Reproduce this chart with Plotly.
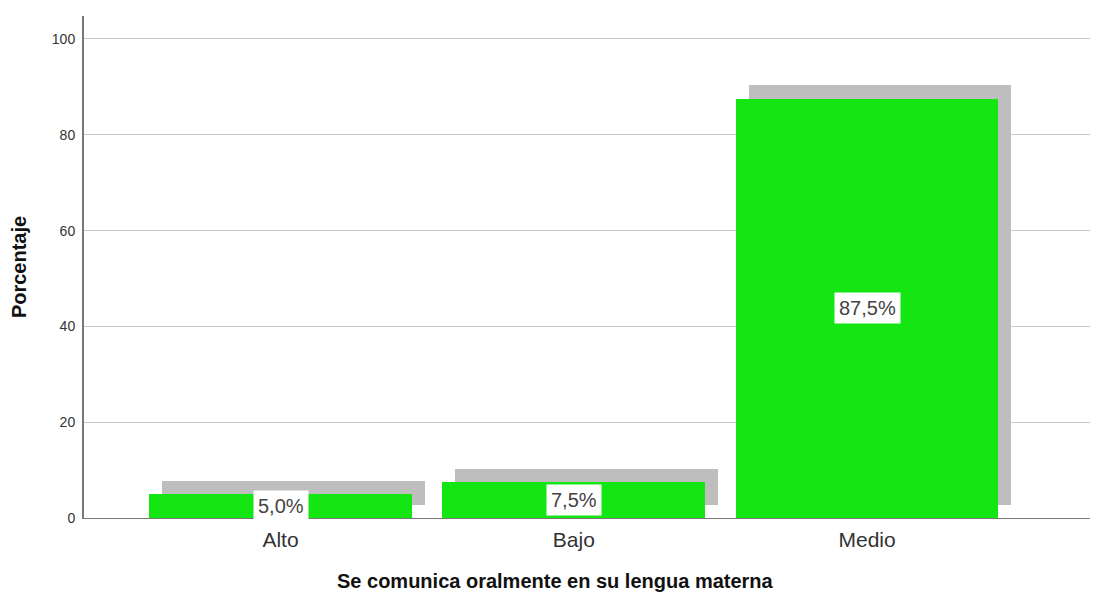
import plotly.graph_objects as go

# datos del gráfico
categorias = ['Alto', 'Bajo', 'Medio']
porcentajes = [5.0, 7.5, 87.5]
ticks_y = [0, 20, 40, 60, 80, 100]

posiciones = list(range(len(categorias)))
verde = '#14E614'
sombra = '#BEBEBE'
fuente = 'Arial, Liberation Sans'

fig = go.Figure()
# sombra desplazada (efecto 3D de SPSS)
fig.add_trace(go.Bar(
    x=[p + 0.044 for p in posiciones], y=porcentajes, base=2.8,
    width=0.896, marker=dict(color=sombra, line=dict(width=0)),
    hoverinfo='skip', showlegend=False
))
fig.add_trace(go.Bar(
    x=posiciones, y=porcentajes, width=0.896,
    marker=dict(color=verde, line=dict(width=0)),
    hovertemplate='%{y:.1f}%<extra></extra>', showlegend=False
))

for p, v in zip(posiciones, porcentajes):
    fig.add_annotation(
        x=p, y=v / 2, text=f'{v:.1f}%'.replace('.', ','),
        showarrow=False, bgcolor='white', borderpad=4,
        font=dict(size=20, color='#444444', family=fuente)
    )

# título del eje x centrado en la figura, no en el área del gráfico
fig.add_annotation(
    x=0.469, xref='paper', y=0, yref='paper', yshift=-63,
    xanchor='center', yanchor='middle', showarrow=False,
    text='<b>Se comunica oralmente en su lengua materna</b>',
    font=dict(size=20, color='#111111', family=fuente)
)

# la página tiene un margen de 8px en el body, por eso 1094x587
fig.update_layout(
    width=1094, height=587,
    margin=dict(l=72, r=12, t=8, b=77),
    plot_bgcolor='white', paper_bgcolor='white',
    barmode='overlay', bargap=0,
    font=dict(family=fuente, color='#222222'),
    xaxis=dict(
        range=[-0.67, 2.76], tickvals=posiciones, ticktext=categorias,
        tickfont=dict(size=21, color='#333333'), showgrid=False,
        showline=True, linecolor='#777777', linewidth=1, ticks='',
        ticklabelstandoff=3, zeroline=False
    ),
    yaxis=dict(
        range=[0, 104.8], tickvals=ticks_y,
        tickfont=dict(size=14, color='#333333'),
        showgrid=True, gridcolor='#C8C8C8', gridwidth=1,
        showline=True, linecolor='#777777', linewidth=2, ticks='',
        ticklabelstandoff=4, zeroline=False,
        title=dict(text='<b>Porcentaje</b>',
                   font=dict(size=20, color='#111111'), standoff=22)
    )
)

fig.write_html('out.html')
